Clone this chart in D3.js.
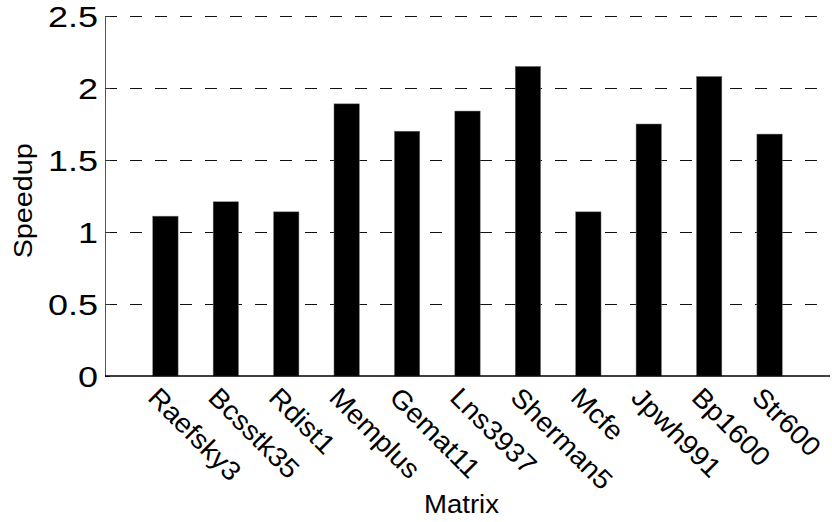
<!DOCTYPE html>
<html>
<head>
<meta charset="utf-8">
<script src="https://cdn.jsdelivr.net/npm/d3@7"></script>
<style>
  html, body { margin: 0; padding: 0; background: #fff; }
  svg { display: block; font-family: "Liberation Sans", Arial, Helvetica, sans-serif; }
</style>
</head>
<body>
<svg id="chart" width="832" height="522"></svg>
<script>
// Speedup per test matrix
const matrices = ["Raefsky3", "Bcsstk35", "Rdist1", "Memplus", "Gemat11", "Lns3937",
                  "Sherman5", "Mcfe", "Jpwh991", "Bp1600", "Str600"];
const speedups = [1.11, 1.21, 1.14, 1.89, 1.70, 1.84, 2.15, 1.14, 1.75, 2.08, 1.68];
const yTicks = [0, 0.5, 1, 1.5, 2, 2.5];
const yTickLabels = ["0", "0.5", "1", "1.5", "2", "2.5"];

const svg = d3.select("#chart");
const plotLeft = 105, plotRight = 830, plotTop = 16, plotBottom = 376;

// bars sit at positions 1..n on a [0, n+1] axis
const x = d3.scaleLinear().domain([0, matrices.length + 1]).range([plotLeft, plotRight]);
const y = d3.scaleLinear().domain([0, 2.5]).range([plotBottom, plotTop]);
const barW = 0.42 * (x(1) - x(0));

// dashed horizontal grid
svg.append("g").selectAll("line")
  .data(yTicks.slice(1))
  .join("line")
  .attr("x1", plotLeft).attr("x2", plotRight)
  .attr("y1", d => y(d)).attr("y2", d => y(d))
  .attr("stroke", "#111")
  .attr("stroke-width", 1)
  .attr("stroke-dasharray", "12,13")
  .attr("shape-rendering", "crispEdges");

// bars
svg.append("g").selectAll("rect")
  .data(speedups)
  .join("rect")
  .attr("x", (d, i) => x(i + 1) - barW / 2)
  .attr("y", d => y(d))
  .attr("width", barW)
  .attr("height", d => y(0) - y(d))
  .attr("fill", "#000")
  .attr("stroke", "#777")
  .attr("stroke-width", 0.5);

// y axis with inward ticks
const yAxis = d3.axisRight(y).tickValues(yTicks).tickSize(5).tickFormat("");
const gy = svg.append("g").attr("transform", `translate(${plotLeft},0)`).call(yAxis);
gy.select(".domain").attr("stroke", "#555").attr("stroke-width", 1);
gy.selectAll(".tick line").attr("stroke", "#333");

// y tick labels (slightly widened glyphs)
svg.append("g").selectAll("text")
  .data(yTicks)
  .join("text")
  .attr("transform", d => `translate(${plotLeft - 7},${y(d)}) scale(1.2,1)`)
  .attr("dy", "0.36em")
  .attr("text-anchor", "end")
  .attr("font-size", 30)
  .attr("fill", "#000")
  .text((d, i) => yTickLabels[i]);

// x axis baseline
svg.append("line")
  .attr("x1", plotLeft).attr("x2", plotRight)
  .attr("y1", y(0)).attr("y2", y(0))
  .attr("stroke", "#000").attr("stroke-width", 1.5);

// rotated category labels
svg.append("g").selectAll("text")
  .data(matrices)
  .join("text")
  .attr("transform", (d, i) => `translate(${x(i + 1) - 19},399) rotate(45) scale(1.05,1)`)
  .attr("text-anchor", "start")
  .attr("font-size", 27)
  .attr("fill", "#000")
  .text(d => d);

// axis titles
svg.append("text")
  .attr("transform", `translate(461.5,513) scale(1.06,1)`)
  .attr("text-anchor", "middle")
  .attr("font-size", 26)
  .text("Matrix");

svg.append("text")
  .attr("transform", `translate(31.5,200.8) rotate(-90) scale(1.15,1)`)
  .attr("text-anchor", "middle")
  .attr("font-size", 25)
  .text("Speedup");
</script>
</body>
</html>
